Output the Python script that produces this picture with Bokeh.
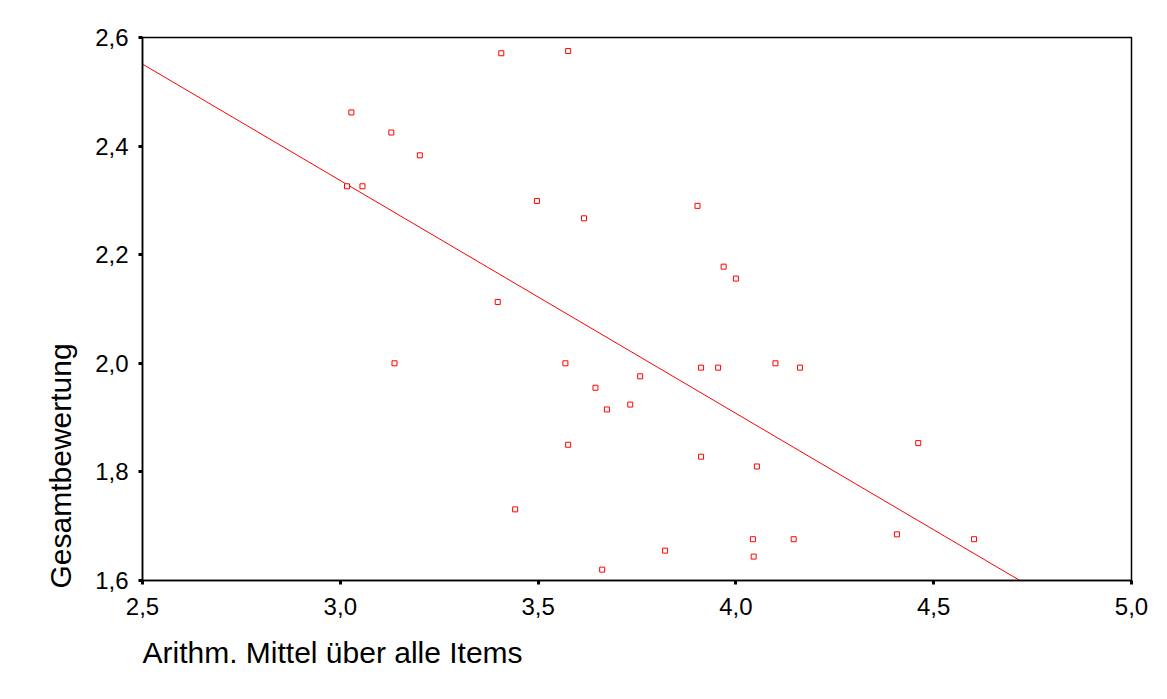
from bokeh.plotting import figure
from bokeh.models import Title, FixedTicker, CustomJSTickFormatter, Range1d
from bokeh.embed import file_html
from bokeh.resources import INLINE

# data
x_vals = [3.028, 3.129, 3.201, 3.017, 3.056, 3.407, 3.576, 3.497, 3.616,
          3.569, 3.645, 3.758, 3.674, 3.733, 3.576, 3.912, 3.955, 4.100,
          4.162, 3.912, 4.053, 3.442, 3.821, 3.662, 4.043, 4.146, 4.045,
          3.398, 3.137, 3.903, 3.969, 4.000, 4.461, 4.407, 4.602]
y_vals = [2.462, 2.425, 2.383, 2.326, 2.326, 2.571, 2.575, 2.299, 2.267,
          2.000, 1.955, 1.976, 1.915, 1.924, 1.850, 1.992, 1.992, 2.000,
          1.992, 1.828, 1.810, 1.731, 1.655, 1.620, 1.676, 1.676, 1.644,
          2.113, 2.000, 2.290, 2.178, 2.156, 1.853, 1.685, 1.676]
fit_intercept = 3.623
fit_slope = -0.4288
x_ticks = [2.5, 3.0, 3.5, 4.0, 4.5, 5.0]
y_ticks = [1.6, 1.8, 2.0, 2.2, 2.4, 2.6]
x_title = "Arithm. Mittel über alle Items"
y_title = "Gesamtbewertung"

FONT = "Liberation Sans"

p = figure(width=1150, height=691, output_backend="svg", toolbar_location=None,
           x_range=Range1d(2.5, 5.0), y_range=Range1d(1.6, 2.6),
           min_border_left=142, min_border_top=37, min_border_right=19,
           min_border_bottom=111)
p.grid.visible = False
p.outline_line_color = "black"
p.outline_line_width = 1.5
p.background_fill_color = "white"
p.border_fill_color = "white"

fmt = CustomJSTickFormatter(code="return tick.toFixed(1).replace('.', ',');")
for ax, ticks in ((p.xaxis, x_ticks), (p.yaxis, y_ticks)):
    ax.ticker = FixedTicker(ticks=ticks)
    ax.formatter = fmt
    ax.minor_tick_line_color = None
    ax.major_tick_in = 0
    ax.major_tick_out = 4
    ax.major_tick_line_width = 3
    ax.major_tick_line_color = "black"
    ax.axis_line_color = "black"
    ax.axis_line_width = 1.5
    ax.major_label_text_font = FONT
    ax.major_label_text_font_size = "24px"
    ax.major_label_text_color = "black"
p.xaxis.major_label_standoff = 13
p.yaxis.major_label_standoff = 10
# blank axis label used only as spacer between tick labels and the title
p.xaxis.axis_label = " "
p.xaxis.axis_label_text_font_size = "10px"
p.xaxis.axis_label_standoff = 0

# regression line
lx = [x_ticks[0], x_ticks[-1]]
ly = [fit_intercept + fit_slope * v for v in lx]
p.line(lx, ly, line_color="red", line_width=1)

p.scatter(x_vals, y_vals, marker="square", size=5, fill_color="white",
          line_color="red", line_width=1)

tb = Title(text=x_title, align="left", text_font=FONT, text_font_size="30px",
           text_font_style="normal", text_color="black", standoff=5, offset=0)
p.add_layout(tb, "below")
tl = Title(text=y_title, align="left", text_font=FONT, text_font_size="30px",
           text_font_style="normal", text_color="black", standoff=32, offset=-8)
p.add_layout(tl, "left")

open("out.html", "w").write(file_html(p, INLINE))
